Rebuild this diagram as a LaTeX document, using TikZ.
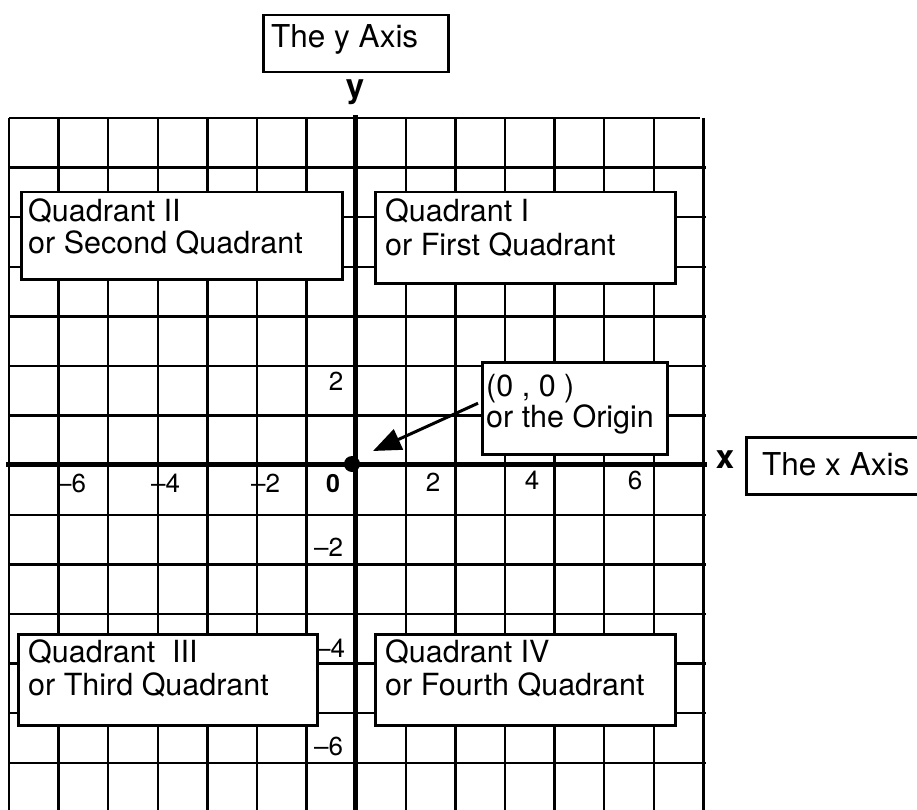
\documentclass[tikz,border=0pt]{standalone}
\usepackage{fontspec}
\setmainfont{TeX Gyre Heros}
\usetikzlibrary{arrows.meta}
\begin{document}
\begin{tikzpicture}[x=1pt,y=-1pt,
  gridline/.style={line width=2.5pt},
  axisline/.style={line width=5pt},
  boxnode/.style={draw, line width=2.5pt, fill=white, anchor=north west, inner sep=0pt},
  bigtxt/.style={anchor=base west, inner sep=0pt, font=\fontsize{30.5}{31.5}\selectfont},
  axtxt/.style={anchor=base west, inner sep=0pt, font=\fontsize{31.5}{32}\selectfont},
  axletter/.style={anchor=base, inner sep=0pt, font=\fontsize{33}{34}\selectfont\bfseries},
  ticklab/.style={anchor=base, inner sep=0pt, font=\fontsize{26}{28}\selectfont},
  tickw/.style={anchor=base west, inner sep=0pt, font=\fontsize{26}{28}\selectfont},
  pointer/.style={line width=3pt, -{Triangle[length=28pt,width=22pt]}}
]
\useasboundingbox (0,0) rectangle (917,810);
% grid
\foreach \k in {0,...,14} {
  \draw[gridline] ({9+49.6*\k},118) -- ({9+49.6*\k},814);
}
\draw[gridline] (9,118) -- (700,118);
\foreach \j in {1,...,13} {
  \draw[gridline] (9,{118+49.6*\j}) -- (706,{118+49.6*\j});
}
% axes
\draw[axisline] (6,464) -- (707,464);
\draw[axisline] (355,115) -- (355,814);
\node[circle, fill=black, inner sep=0pt, minimum size=16pt] (o) at (352,464) {};
% boxes
\node[boxnode, minimum width=185pt, minimum height=57pt] (ybox) at (262,14) {};
\node[boxnode, minimum width=180pt, minimum height=57pt] (xbox) at (745,436) {};
\node[boxnode, minimum width=321pt, minimum height=87pt] (q2box) at (20,191) {};
\node[boxnode, minimum width=300pt, minimum height=91pt] (q1box) at (374,191) {};
\node[boxnode, minimum width=299pt, minimum height=91pt] (q3box) at (17,633) {};
\node[boxnode, minimum width=300pt, minimum height=91pt] (q4box) at (374,633) {};
% origin box and arrow
\node[boxnode, minimum width=185pt, minimum height=92pt] (obox) at (481,361) {};
\coordinate (tip) at (373,451);
\draw[pointer] ([yshift=5pt,xshift=-3pt]obox.west) -- (tip);
% texts
\node[axtxt] (ytxt) at (271,48) {The y Axis};
\node[axtxt] (xtxt) at (762,475) {The x Axis};
\node[axletter] (ylet) at (355,98) {y};
\node[axletter] (xlet) at (725,468) {x};
\node[bigtxt] (q2a) at (28,222) {Quadrant II};
\node[bigtxt] (q2b) at (28,253) {or Second Quadrant};
\node[bigtxt] (q1a) at (385,222) {Quadrant I};
\node[bigtxt] (q1b) at (385,255) {or First Quadrant};
\node[bigtxt] (q3a) at (28,662) {Quadrant\ \ III};
\node[bigtxt] (q3b) at (28,695) {or Third Quadrant};
\node[bigtxt] (q4a) at (385,662) {Quadrant IV};
\node[bigtxt] (q4b) at (385,695) {or Fourth Quadrant};
\node[bigtxt] (oa) at (486,396) {(0 , 0 )};
\node[bigtxt] (ob) at (486,427) {or the Origin};
% tick labels
\node[tickw] (xm6) at (57,492) {–6};
\node[tickw] (xm4) at (151,492) {–4};
\node[tickw] (xm2) at (251,492) {–2};
\node[ticklab, font=\fontsize{25}{28}\selectfont\bfseries] (zero) at (333,492) {0};
\node[ticklab] (xp2) at (433,491) {2};
\node[ticklab] (xp4) at (532,489) {4};
\node[ticklab] (xp6) at (635,489) {6};
\node[ticklab] (yp2) at (336,390) {2};
\node[tickw] (ym2) at (314,556) {–2};
\node[tickw] (ym4) at (316,657) {–4};
\node[tickw] (ym6) at (314,755) {–6};
\end{tikzpicture}
\end{document}
